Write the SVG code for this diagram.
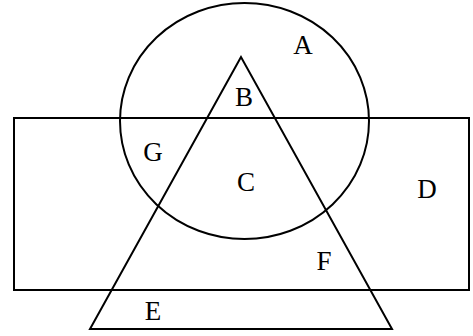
<svg xmlns="http://www.w3.org/2000/svg" width="473" height="336" viewBox="0 0 473 336">
<style>
.s{fill:none;stroke:#000;stroke-width:2}
.t{font-family:"Liberation Serif",serif;font-size:27px;fill:#000;text-anchor:middle}
</style>
<rect width="473" height="336" fill="#fff"/>
<g id="circle"><ellipse class="s" cx="244.5" cy="121" rx="124.5" ry="118"/></g>
<g id="rectangle"><rect class="s" x="14" y="118" width="455" height="172"/></g>
<g id="triangle"><polygon class="s" points="241,57 90,329 392,329"/></g>
<g id="labels">
<text class="t" x="303" y="54">A</text>
<text class="t" x="244" y="106">B</text>
<text class="t" x="153" y="161">G</text>
<text class="t" x="246" y="191">C</text>
<text class="t" x="427" y="198">D</text>
<text class="t" x="324" y="270">F</text>
<text class="t" x="153" y="320">E</text>
</g>
</svg>
